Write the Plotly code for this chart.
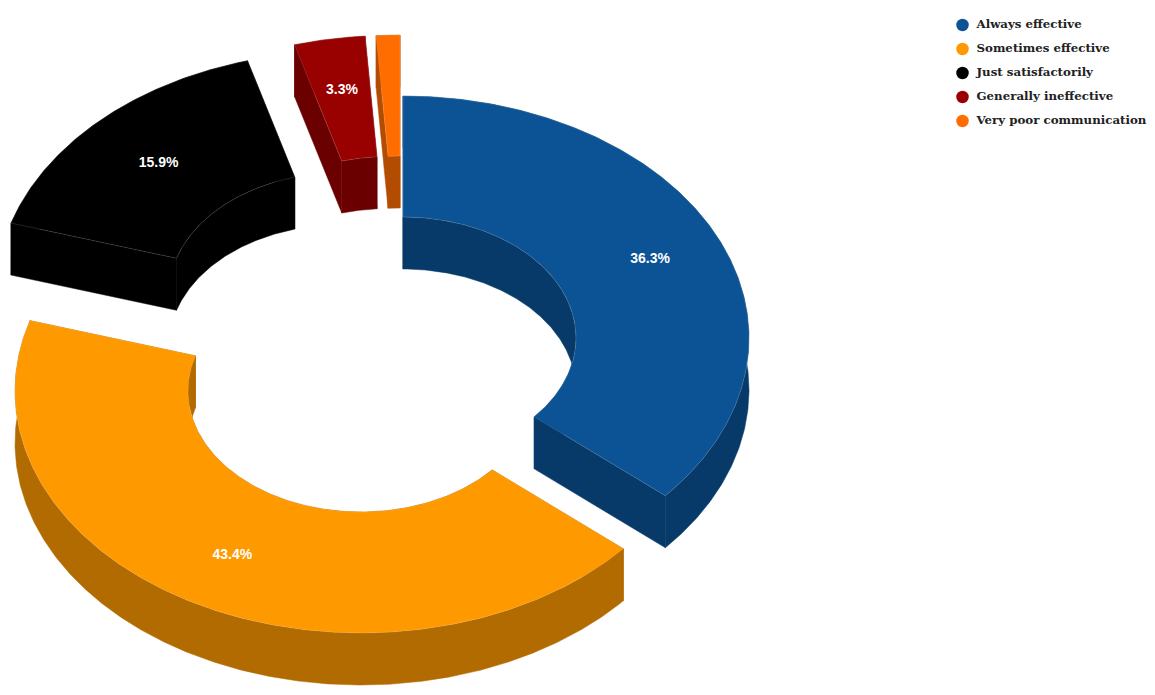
import math
import numpy as np
import plotly.graph_objects as go

# Data
categories = ["Always effective", "Sometimes effective", "Just satisfactorily",
              "Generally ineffective", "Very poor communication"]
values = [36.3, 43.4, 15.9, 3.3, 1.1]

# Style
colors = ["#0B5394", "#FF9900", "#000000", "#990000", "#FF6D00"]
dark_colors = ["#073A68", "#B26B00", "#000000", "#6B0000", "#B34C00"]
slice_centres = [(403, 338), (361, 391), (342, 293.5), (389, 277.5), (400, 277)]
label_radii = [0.786, 0.772, 0.757, 0.79, 0.0]
draw_order = [4, 3, 2, 0, 1]
RX, RY, HOLE, DEPTH = 346, 242, 0.5, 52
EDGE = "rgba(255,255,255,0.22)"
W, H = 1155, 695


def arc(cx, cy, a0, a1, scale=1.0, dy=0.0):
    n = max(int(abs(a1 - a0) * 2), 2)
    t = np.radians(np.linspace(a0, a1, n))
    return cx + RX * scale * np.sin(t), cy - RY * scale * np.cos(t) + dy


def poly(x, y, fill, line=None, width=0.5):
    return go.Scatter(x=np.append(x, x[0]), y=np.append(y, y[0]), mode="lines", fill="toself",
                      fillcolor=fill, line=dict(color=line or fill, width=width),
                      hoverinfo="skip", showlegend=False)


fig = go.Figure()
total = sum(values)
cum = np.cumsum([0] + values) / total * 360
lab_x, lab_y, lab_t = [], [], []

for i in draw_order:
    a0, a1 = cum[i], cum[i + 1]
    cx, cy = slice_centres[i]
    d = dark_colors[i]
    ox, oy = arc(cx, cy, a0, a1)
    ix, iy = arc(cx, cy, a0, a1, HOLE)
    # outer wall
    fig.add_trace(poly(np.r_[ox, ox[::-1]], np.r_[oy, oy[::-1] + DEPTH], d))
    # inner wall
    fig.add_trace(poly(np.r_[ix, ix[::-1]], np.r_[iy, iy[::-1] + DEPTH], d))
    # cut faces
    for k in (0, -1):
        fig.add_trace(poly(np.array([ix[k], ox[k], ox[k], ix[k]]),
                           np.array([iy[k], oy[k], oy[k] + DEPTH, iy[k] + DEPTH]), d))
    # top face
    fig.add_trace(poly(np.r_[ox, ix[::-1]], np.r_[oy, iy[::-1]], colors[i], EDGE, 0.6))
    mid = math.radians((a0 + a1) / 2)
    if values[i] >= 2:
        lab_x.append(cx + RX * label_radii[i] * math.sin(mid))
        lab_y.append(cy - RY * label_radii[i] * math.cos(mid) + 1)
        lab_t.append(f"{values[i]:.1f}%")

fig.add_trace(go.Scatter(x=lab_x, y=lab_y, text=lab_t, mode="text", hoverinfo="skip", showlegend=False,
                         textposition="middle center",
                         textfont=dict(family="Liberation Sans", size=14, color="white", weight="bold")))

# Legend rows
LEG_X, LEG_Y, LEG_STEP = 962.5, 25, 24
rows = list(range(len(categories)))
fig.add_trace(go.Scatter(x=[LEG_X] * len(rows), y=[LEG_Y + r * LEG_STEP for r in rows],
                         mode="markers", marker=dict(size=12.5, color=colors, line=dict(width=0)),
                         hoverinfo="skip", showlegend=False))
fig.add_trace(go.Scatter(x=[LEG_X + 14] * len(rows), y=[LEG_Y + r * LEG_STEP for r in rows],
                         text=categories, mode="text", textposition="middle right", hoverinfo="skip",
                         showlegend=False,
                         textfont=dict(family="DejaVu Serif", size=11.8, color="#222222", weight="bold")))

fig.update_layout(width=W, height=H, margin=dict(l=0, r=0, t=0, b=0),
                  paper_bgcolor="white", plot_bgcolor="white", showlegend=False,
                  xaxis=dict(range=[0, W], visible=False, fixedrange=True),
                  yaxis=dict(range=[H, 0], visible=False, fixedrange=True))
fig.write_html("out.html", config={"displayModeBar": False},
               post_script="document.body.style.margin='0';document.body.style.overflow='hidden';")
